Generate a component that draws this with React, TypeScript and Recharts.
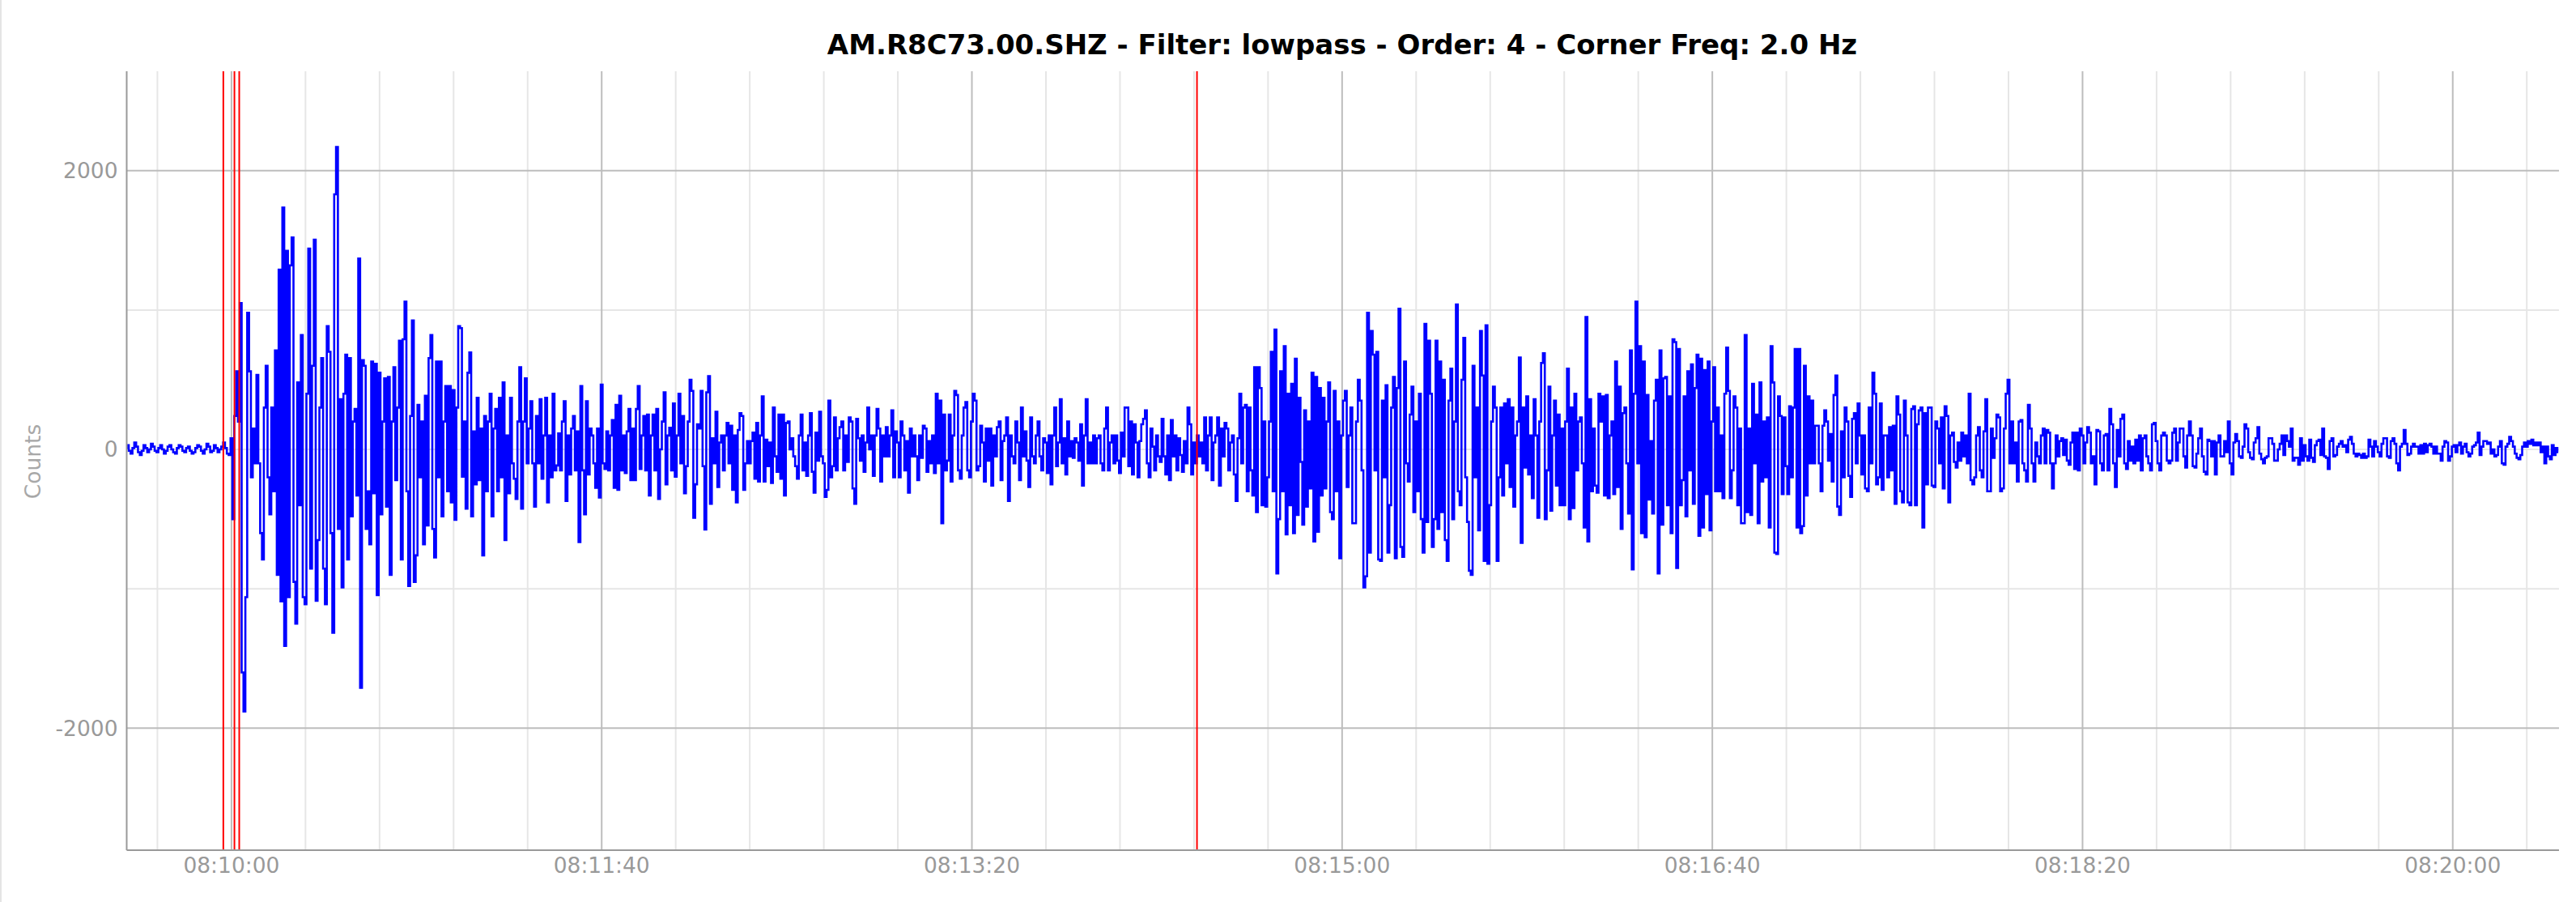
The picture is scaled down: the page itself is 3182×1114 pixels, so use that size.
import React from 'react';
import { LineChart, Line, XAxis, YAxis, CartesianGrid, ReferenceLine } from 'recharts';

// ---- waveform samples (counts), 0.5 s apart, time in seconds relative to 08:10:00 ----
const SAMPLE_STEP = 0.5;

const COUNTS_080931 = [10, 30, -10, -30, 10, 50, 20, -20, -40, -10, 30, 10, -20, 0, 40, 20, -10];
const COUNTS_080940 = [
  -20, 10, 30, 0, -30, -10, 20, 30, 0, -20,
  -30, 10, 30, 20, -10, -20, 10, 20, -10, -30,
  -20, 10, 30, 20, -10, -30, 0, 40, 20, -20,
  -10, 30, 10, -20, 0, 20, 50, 10, -30, -40,
];
const COUNTS_081000 = [
  80, -500, 240, 560, 200, 1050, -1600, -1880, -1060, 980,
  560, -200, 150, -100, 535, -100, -600, -790, 300, 600,
  -200, -465, 300, -300, 710, -900, 1290, -1090, 1735, -1410,
  1425, -1060, 1320, 1520, -950, -1250, 480, -400, 820, -1060,
];
const COUNTS_081020 = [
  -1110, 400, 1440, -855, 600, 1505, -1085, -650, 300, 655,
  -855, -1110, 885, 700, -600, -1315, 1830, 2170, -570, 360,
  -990, 400, 680, -790, 655, -480, 200, 290, -330, 1370,
  -1710, 640, 600, -570, -300, -680, 630, -315, 615, -1045,
];
const COUNTS_081040 = [
  550, -465, 200, 510, -410, 520, -900, 200, 590, -220,
  300, 780, -790, 790, 1060, -300, -980, 240, 925, -950,
  -760, 320, -200, 200, -680, 385, -545, 655, 820, -570,
  -775, 630, -200, 630, -480, 200, 455, -300, 455, -380,
];
const COUNTS_081100 = [
  425, -505, 300, 885, 870, -195, 200, -425, 550, 695,
  -480, 130, -250, 370, -220, 150, -760, 240, -300, 200,
  400, -480, 150, 290, -300, 370, -200, 480, -650, 100,
  -315, 370, -100, -210, -355, 200, 590, -425, 200, 510,
];
const COUNTS_081120 = [
  -100, 150, 345, -100, -410, 240, -100, 360, -210, 100,
  370, -380, 100, -200, 400, -150, -115, 115, -150, 200,
  345, -370, 100, -180, 150, 240, -150, 130, -665, 455,
  -150, -465, 345, -180, 150, 100, -100, -275, 150, -345,
];
const COUNTS_081140 = [
  465, -100, -140, 130, -150, 100, 210, -275, 320, -290,
  385, -150, 100, -170, 130, 290, -220, 150, -220, 290,
  455, -140, 100, 240, -150, 250, -330, 100, 250, -150,
  290, -355, 0, 200, 410, -250, 100, 155, -150, 330,
];
const COUNTS_081200 = [
  -195, 100, 400, -100, 240, -315, -120, 200, 500, 420,
  -490, -250, 180, 150, 420, -120, -575, 410, 525, -390,
  80, -100, 270, -270, 50, 100, -150, 100, 190, -100,
  170, -290, 100, -380, 140, 260, 240, -290, -100, 60,
];
const COUNTS_081220 = [
  -100, 60, 120, -210, 190, -230, 100, 380, -230, 70,
  -120, 50, -240, 300, -50, -160, 250, -210, 250, -330,
  190, 200, 0, 80, -50, -120, -210, 100, 250, -150,
  50, -190, 100, 260, -160, -310, 120, -80, 270, -50,
];
const COUNTS_081240 = [
  -100, -340, -290, 350, -200, -120, 230, -150, 80, 160,
  200, -150, 100, -90, 230, 200, -280, -390, 220, 80,
  -80, 100, -160, 50, 300, 0, 100, -190, 100, 290,
  150, -230, 100, -50, 160, -50, 100, 280, -200, 130,
];
const COUNTS_081300 = [
  50, -200, 200, 100, -150, 60, -310, 150, -50, 100,
  -50, -220, 100, -60, 170, 150, -160, 60, -100, 100,
  -170, 400, -100, 350, -530, 250, -150, -80, 250, -230,
  100, 420, 390, -150, -210, 100, 300, 340, -150, -200,
];
const COUNTS_081320 = [
  200, 400, 350, -150, -120, 170, 50, -230, 150, -80,
  150, -260, 100, -50, 160, 200, -220, 60, 100, 230,
  -370, 100, -50, -100, 200, 50, -220, 300, -50, 130,
  -80, -270, 230, -50, -100, 100, 200, -50, -150, 80,
];
const COUNTS_081340 = [
  50, -170, 100, -250, 100, 300, -120, 50, 360, -100,
  80, -180, 200, -50, 60, -60, 80, 50, -80, 180,
  -260, 100, 360, -100, 50, -100, 100, -100, 80, 100,
  -100, -150, 150, 300, -150, 50, 100, -100, 100, -80,
];
const COUNTS_081400 = [
  -170, 120, -50, 300, 300, -120, 200, -180, 180, 50,
  -200, 60, 180, 220, 280, -100, -200, 150, 20, -150,
  100, -50, -90, 220, -50, -180, 100, -220, 210, -50,
  100, -150, 80, -40, -160, 60, -100, 300, 180, -180,
];
const COUNTS_081420 = [
  50, -100, 100, -50, 50, -100, 230, -150, 100, 230,
  -220, 50, 100, 230, -260, 150, -50, 190, 150, -150,
  50, 100, -180, -370, 80, 400, -100, 300, 320, -300,
  300, -150, -330, 590, -450, 590, 440, -400, 200, -410,
];
const COUNTS_081440 = [
  -200, 200, 700, -300, 860, -890, -500, 560, -300, 740,
  -610, 400, -400, 470, -600, 650, -470, 370, -90, -540,
  280, -410, 200, -280, 550, -660, 520, -590, 440, -330,
  370, -280, 200, 480, -450, -500, 420, -300, 200, -780,
];
const COUNTS_081500 = [
  100, 350, 420, -270, 100, 300, -530, -530, 200, 500,
  350, -150, -990, -910, 980, -740, 850, 680, -150, 700,
  -790, -800, 350, -200, 460, -740, -400, 300, 520, -780,
  440, 1010, -700, -770, 630, -100, -230, 250, 450, -450,
];
const COUNTS_081520 = [
  200, -300, 400, -500, -740, 900, -520, 780, 400, -700,
  -500, 780, -570, 630, -450, 500, -650, -800, 350, 580,
  -500, 200, 1040, -300, -400, 500, 800, -200, -520, -870,
  -900, 600, -200, 300, -580, 850, 530, -800, 890, -820,
];
const COUNTS_081540 = [
  -400, 200, 450, 300, -800, -200, 300, -330, 330, -100,
  360, -270, 300, -410, 100, 200, 660, -670, 300, -130,
  380, -180, 100, -350, 360, 100, -490, 200, 620, 690,
  -500, -150, 450, -440, 100, 350, -260, 250, -400, 150,
];
const COUNTS_081600 = [
  -400, 200, 580, -500, 300, -420, 400, -150, 200, 230,
  -100, -560, 950, -660, 360, -300, 150, -260, -310, 400,
  200, 380, -330, 390, -350, 100, 200, -320, 630, -270,
  450, -570, 260, 300, -100, -460, 710, -860, 400, 1060,
];
const COUNTS_081620 = [
  -100, 740, -600, 630, -630, 390, -360, 60, -460, 350,
  500, -890, 710, -540, 510, 520, -400, 380, -600, 790,
  770, -850, 720, -400, -220, 380, -480, 560, -150, 610,
  -390, 440, 680, -620, 650, -560, 570, -320, 630, -580,
];
const COUNTS_081640 = [
  200, 590, -300, 300, -300, 100, -350, 400, 730, 420,
  -350, -150, 380, 300, -400, 150, -530, -530, 820, -450,
  150, -470, 470, -100, 250, -530, 480, -230, 200, -200,
  230, -560, 740, 480, -740, -750, 380, 240, -320, 230,
];
const COUNTS_081700 = [
  -120, -320, 310, -200, 300, 720, -560, 720, -600, -550,
  600, -330, 380, -100, 350, -100, 170, 170, -100, -300,
  170, 280, 200, -80, 110, -230, 390, 530, -410, -470,
  130, -200, 300, 200, -190, -340, 220, 260, -100, 330,
];
const COUNTS_081720 = [
  100, -180, 100, -280, -300, 300, -100, 550, 400, -250,
  -200, 330, -290, 100, 100, -200, 160, -150, 170, -390,
  380, 250, -300, -380, 350, 100, -380, -400, 290, 310,
  -400, 180, 280, 300, -560, 260, -250, 300, 300, -260,
];
const COUNTS_081740 = [
  -270, 200, 150, -100, 230, -280, 310, 240, -380, 100,
  120, -90, -130, 50, -80, 120, -50, 100, -100, 400,
  -220, -250, -200, 100, 160, -150, -200, 130, 360, -300,
  -300, 150, -60, 80, 250, 230, -300, -280, 150, 400,
];
const COUNTS_081800 = [
  500, -100, 200, -100, 50, -230, 200, 210, -100, -150,
  -230, 320, 150, -100, -230, 50, -50, -100, 100, 150,
  -100, 140, 120, -100, -280, -100, 100, -50, 60, 80,
  -40, 70, -80, -110, 50, 120, -140, 120, -150, 150,
];
const COUNTS_081820 = [
  100, -100, 50, 160, 120, -100, -50, -250, 140, 130,
  -100, -150, 100, 110, -150, 290, 180, -100, -270, 140,
  -50, 220, 250, -100, -140, 60, -80, 20, -100, 70,
  -80, 100, -150, 80, 100, -50, -100, -150, 180, 190,
];
const COUNTS_081840 = [
  60, -100, -150, 100, 120, 100, -80, -100, -80, 120,
  150, -80, 50, 150, 150, -50, -130, 100, 200, 100,
  -120, -130, -30, 80, 150, -50, -160, -180, 70, 60,
  -50, 60, -180, 50, 100, -50, -50, 60, -20, 200,
];
const COUNTS_081900 = [
  -100, -180, 50, 110, 60, -50, -60, 20, 180, 150,
  -20, -60, -70, 50, 80, 160, -30, -70, -100, -60,
  -50, 80, 80, 40, -80, -80, 0, 40, 100, -40,
  100, 60, 20, 150, -80, -60, -60, -110, 80, -80,
];
const COUNTS_081920 = [
  30, -50, -80, 70, -60, -90, 30, 60, 70, -40,
  150, -50, -60, -140, 60, 80, -50, -40, 20, 40,
  60, 20, 30, -20, 70, 90, 40, -30, -50, -30,
  -40, -60, -30, -60, -50, 70, 20, -50, 60, 20,
];
const COUNTS_081940 = [
  -20, -50, 40, 80, 80, -50, -60, 60, 80, 40,
  -100, -150, 20, 40, 140, 40, -40, -30, 20, 40,
  20, 20, -30, 30, -30, 40, -20, 30, 40, 20,
  -30, 20, -30, -30, -80, 20, 60, 50, -80, -50,
];
const COUNTS_082000 = [
  20, 30, -20, 30, 50, -30, 20, 40, -20, -50,
  -30, 20, 30, 50, 120, -40, 20, 60, 60, 40,
  50, -30, 0, -50, -40, 20, 60, -100, -110, 20,
  40, 90, 60, 20, -30, -60, -70, -40, 20, 50,
];
const COUNTS_082020 = [20, 60, 40, 70, 30, 50, 30, 50, -20, 20, -100, 20, -50, -70, 30, -40, 10, -20];

const SEGMENTS = [
  { start: -28.5, values: COUNTS_080931 },
  { start: -20, values: COUNTS_080940 },
  { start: 0, values: COUNTS_081000 },
  { start: 20, values: COUNTS_081020 },
  { start: 40, values: COUNTS_081040 },
  { start: 60, values: COUNTS_081100 },
  { start: 80, values: COUNTS_081120 },
  { start: 100, values: COUNTS_081140 },
  { start: 120, values: COUNTS_081200 },
  { start: 140, values: COUNTS_081220 },
  { start: 160, values: COUNTS_081240 },
  { start: 180, values: COUNTS_081300 },
  { start: 200, values: COUNTS_081320 },
  { start: 220, values: COUNTS_081340 },
  { start: 240, values: COUNTS_081400 },
  { start: 260, values: COUNTS_081420 },
  { start: 280, values: COUNTS_081440 },
  { start: 300, values: COUNTS_081500 },
  { start: 320, values: COUNTS_081520 },
  { start: 340, values: COUNTS_081540 },
  { start: 360, values: COUNTS_081600 },
  { start: 380, values: COUNTS_081620 },
  { start: 400, values: COUNTS_081640 },
  { start: 420, values: COUNTS_081700 },
  { start: 440, values: COUNTS_081720 },
  { start: 460, values: COUNTS_081740 },
  { start: 480, values: COUNTS_081800 },
  { start: 500, values: COUNTS_081820 },
  { start: 520, values: COUNTS_081840 },
  { start: 540, values: COUNTS_081900 },
  { start: 560, values: COUNTS_081920 },
  { start: 580, values: COUNTS_081940 },
  { start: 600, values: COUNTS_082000 },
  { start: 620, values: COUNTS_082020 },
];

// ---- axes, grid, picks ----
const TIME_TICKS = [0, 100, 200, 300, 400, 500, 600];
const TIME_LABELS = ['08:10:00', '08:11:40', '08:13:20', '08:15:00', '08:16:40', '08:18:20', '08:20:00'];
const MINOR_TIMES = [
  -20, 20, 40, 60, 80, 120, 140, 160, 180, 220, 240, 260, 280, 320, 340, 360, 380,
  420, 440, 460, 480, 520, 540, 560, 580, 620,
];
const COUNT_TICKS = [-2000, 0, 2000];
const MINOR_COUNTS = [-1000, 0, 1000];
const MAJOR_COUNTS = [-2000, 2000];
const PICK_TIMES = [-2.2, 0.8, 2.1, 260.8];

const TITLE = 'AM.R8C73.00.SHZ - Filter: lowpass - Order: 4 - Corner Freq: 2.0 Hz';
const Y_LABEL = 'Counts';

const rows = SEGMENTS.flatMap((s) => s.values.map((v, i) => ({ t: s.start + i * SAMPLE_STEP, v })));

const W = 3182;
const H = 1114;
const FONT = "'DejaVu Sans', sans-serif";

export default function App() {
  return (
    <div style={{ position: 'absolute', left: 0, top: 0, width: W, height: H, background: '#fff', overflow: 'hidden' }}>
      <div style={{ position: 'absolute', left: 0, top: 0, width: 2, height: H, background: '#e4e4e4' }} />
      <LineChart width={W} height={H} data={rows} margin={{ top: 88, right: 21, bottom: 0, left: 0 }}>
        <CartesianGrid
          stroke="#e6e6e6"
          strokeWidth={2}
          verticalValues={MINOR_TIMES}
          horizontalValues={MINOR_COUNTS}
        />
        <CartesianGrid
          stroke="#bdbdbd"
          strokeWidth={2}
          verticalValues={TIME_TICKS}
          horizontalValues={MAJOR_COUNTS}
        />
        <XAxis
          dataKey="t"
          type="number"
          domain={[-28.3, 628.7]}
          allowDataOverflow
          ticks={TIME_TICKS}
          interval={0}
          tickFormatter={(v) => TIME_LABELS[TIME_TICKS.indexOf(v)] ?? ''}
          height={64}
          axisLine={{ stroke: '#999', strokeWidth: 2 }}
          tickLine={false}
          tickSize={0}
          tickMargin={9}
          tick={{ fill: '#999', fontSize: 26.5, fontFamily: FONT }}
        />
        <YAxis
          type="number"
          domain={[-2875, 2713]}
          allowDataOverflow
          ticks={COUNT_TICKS}
          interval={0}
          width={156.5}
          axisLine={{ stroke: '#999', strokeWidth: 2 }}
          tickLine={false}
          tickSize={0}
          tickMargin={11}
          tick={{ fill: '#999', fontSize: 26.5, fontFamily: FONT }}
        />
        <Line
          type="step"
          dataKey="v"
          stroke="#0000ff"
          strokeWidth={2.6}
          strokeLinejoin="miter"
          dot={false}
          activeDot={false}
          isAnimationActive={false}
        />
        {PICK_TIMES.map((x) => (
          <ReferenceLine key={x} x={x} stroke="#ff0000" strokeWidth={2} />
        ))}
      </LineChart>
      <svg width={W} height={H} style={{ position: 'absolute', left: 0, top: 0, pointerEvents: 'none' }}>
        <text x={1658} y={67} textAnchor="middle" fontFamily={FONT} fontWeight="bold" fontSize={34} fill="#000">
          {TITLE}
        </text>
        <text
          x={0}
          y={0}
          transform="translate(50 570) rotate(-90)"
          textAnchor="middle"
          fontFamily={FONT}
          fontSize={26.5}
          fill="#a8a8a8"
        >
          {Y_LABEL}
        </text>
      </svg>
    </div>
  );
}
